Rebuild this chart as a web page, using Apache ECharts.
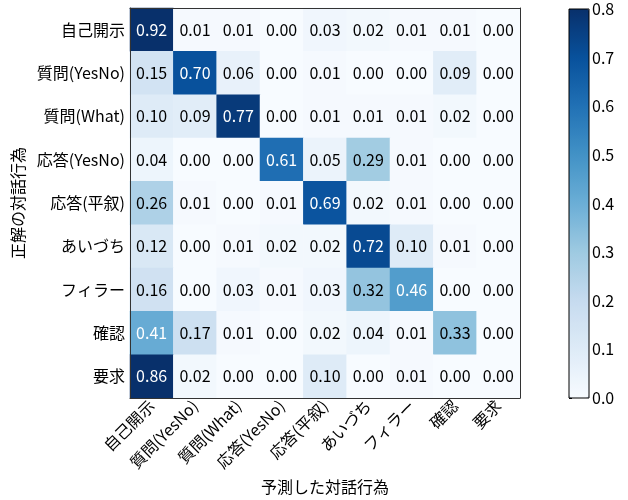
<!DOCTYPE html>
<html>
<head>
<meta charset="utf-8">
<script src="https://cdn.jsdelivr.net/npm/echarts@6/dist/echarts.min.js"></script>
<style>
  html, body { margin: 0; padding: 0; background: #fff; }
  #main { width: 628px; height: 500px; }
</style>
</head>
<body>
<div id="main"></div>
<script>
// 対話行為のカテゴリ
var acts = ['自己開示', '質問(YesNo)', '質問(What)', '応答(YesNo)', '応答(平叙)', 'あいづち', 'フィラー', '確認', '要求'];

// 混同行列 (行: 正解, 列: 予測)
var row0 = [0.92, 0.01, 0.01, 0.00, 0.03, 0.02, 0.01, 0.01, 0.00];
var row1 = [0.15, 0.70, 0.06, 0.00, 0.01, 0.00, 0.00, 0.09, 0.00];
var row2 = [0.10, 0.09, 0.77, 0.00, 0.01, 0.01, 0.01, 0.02, 0.00];
var row3 = [0.04, 0.00, 0.00, 0.61, 0.05, 0.29, 0.01, 0.00, 0.00];
var row4 = [0.26, 0.01, 0.00, 0.01, 0.69, 0.02, 0.01, 0.00, 0.00];
var row5 = [0.12, 0.00, 0.01, 0.02, 0.02, 0.72, 0.10, 0.01, 0.00];
var row6 = [0.16, 0.00, 0.03, 0.01, 0.03, 0.32, 0.46, 0.00, 0.00];
var row7 = [0.41, 0.17, 0.01, 0.00, 0.02, 0.04, 0.01, 0.33, 0.00];
var row8 = [0.86, 0.02, 0.00, 0.00, 0.10, 0.00, 0.01, 0.00, 0.00];
var rows = [row0, row1, row2, row3, row4, row5, row6, row7, row8];

// カラーバーの目盛り
var cbarMin = 0, cbarMax = 0.8, cbarStep = 0.1;

var blues = ['#f7fbff', '#deebf7', '#c6dbef', '#9ecae1', '#6baed6', '#4292c6', '#2171b5', '#08519c', '#08306b'];
var font = "'Noto Sans CJK JP', sans-serif";

var cells = [];
rows.forEach(function (r, y) {
  r.forEach(function (v, x) {
    cells.push({
      value: [x, y, v],
      label: { color: v > 0.4 ? '#fff' : '#000' }
    });
  });
});

var chart = echarts.init(document.getElementById('main'));
var hidden = { show: false };
var frame = { lineStyle: { color: '#333', width: 1 } };
chart.setOption({
  animation: false,
  backgroundColor: '#fff',
  textStyle: { fontFamily: font },
  grid: [
    { left: 130, top: 8, width: 390, height: 390 },
    { left: 569, top: 9, width: 20, height: 389, show: true, borderColor: '#000', borderWidth: 1, backgroundColor: 'transparent', z: 10 }
  ],
  xAxis: [
    {
      type: 'category', data: acts, gridIndex: 0, z: 5,
      name: '予測した対話行為', nameLocation: 'middle', nameGap: 81,
      nameTextStyle: { fontSize: 16, color: '#000', fontFamily: font },
      axisLine: frame,
      axisTick: { alignWithLabel: true, length: 4, lineStyle: { color: '#000' } },
      axisLabel: { rotate: 45, fontSize: 16, color: '#000', interval: 0, margin: 5, fontFamily: font },
      splitArea: hidden, splitLine: hidden
    },
    {
      type: 'category', data: acts, gridIndex: 0, position: 'top', z: 5,
      axisLine: frame, axisTick: hidden, axisLabel: hidden
    },
    { type: 'value', gridIndex: 1, show: false, min: 0, max: 1 }
  ],
  yAxis: [
    {
      type: 'category', data: acts, gridIndex: 0, inverse: true, z: 5,
      name: '正解の対話行為', nameLocation: 'middle', nameRotate: 90, nameGap: 94,
      nameTextStyle: { fontSize: 16, color: '#000', fontFamily: font },
      axisLine: frame,
      axisTick: { alignWithLabel: true, length: 4, lineStyle: { color: '#000' } },
      axisLabel: { fontSize: 16, color: '#000', interval: 0, margin: 5, fontFamily: font },
      splitArea: hidden, splitLine: hidden
    },
    {
      type: 'category', data: acts, gridIndex: 0, inverse: true, position: 'right', z: 5,
      axisLine: frame, axisTick: hidden, axisLabel: hidden
    },
    {
      type: 'value', gridIndex: 1, position: 'right',
      min: cbarMin, max: cbarMax, interval: cbarStep,
      axisLine: hidden, splitLine: hidden,
      axisTick: { show: true, length: 3, lineStyle: { color: '#000' } },
      axisLabel: {
        fontSize: 16, color: '#000', margin: 3, fontFamily: font,
        formatter: function (v) { return v.toFixed(1); }
      }
    }
  ],
  visualMap: {
    type: 'continuous', min: cbarMin, max: cbarMax,
    orient: 'vertical', left: 569, top: 9, itemWidth: 20, itemHeight: 389,
    calculable: false, text: null, padding: 0,
    inRange: { color: blues },
    outOfRange: { color: '#08306b' },
    seriesIndex: 0
  },
  series: [{
    type: 'heatmap', xAxisIndex: 0, yAxisIndex: 0,
    data: cells,
    label: {
      show: true, fontSize: 16, fontFamily: font,
      formatter: function (p) { return p.value[2].toFixed(2); }
    },
    emphasis: { disabled: true }
  }]
});
</script>
</body>
</html>
